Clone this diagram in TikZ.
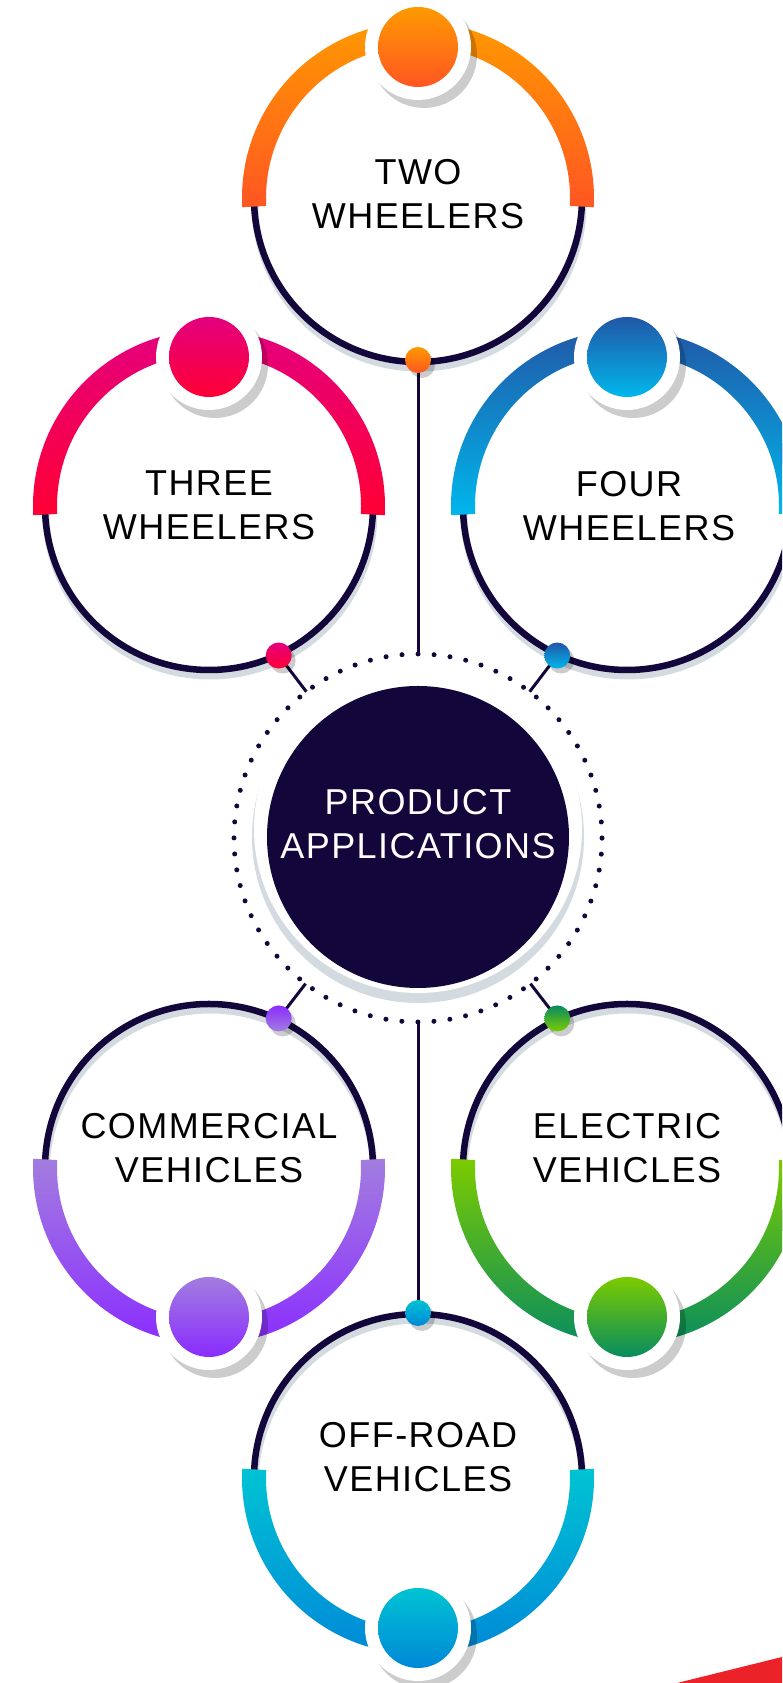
\documentclass[tikz,border=0pt]{standalone}
\usepackage{fontspec}
\setmainfont{Liberation Sans}
\newfontfamily\capsfont[LetterSpace=4]{Liberation Sans}
\usetikzlibrary{calc}

\definecolor{navy}{HTML}{13063A}
\definecolor{haze}{HTML}{D3DBE0}
\definecolor{orangeA}{HTML}{FF9A00}
\definecolor{orangeB}{HTML}{FF5622}
\definecolor{pinkA}{HTML}{E4007E}
\definecolor{pinkB}{HTML}{FF0035}
\definecolor{blueA}{HTML}{2157A6}
\definecolor{blueB}{HTML}{00B7EC}
\definecolor{purpleA}{HTML}{A27DDF}
\definecolor{purpleB}{HTML}{8A2CFF}
\definecolor{greenA}{HTML}{7CCB00}
\definecolor{greenB}{HTML}{078C5F}
\definecolor{tealA}{HTML}{00C3D3}
\definecolor{tealB}{HTML}{0088D8}
\definecolor{flag}{HTML}{EC2229}

\tikzset{
	ring/.style={line width=6.5, draw=navy},
	ringshadow/.style={line width=7, draw=haze},
	wire/.style={line width=3, draw=navy},
	ringtext/.style={align=center, inner sep=0, font=\capsfont\fontsize{36}{44}\selectfont}
}

\def\bandarc[#1](#2)(#3:#4){\shade[#1] ($(#2)+(#3:152)$) arc (#3:#4:152) -- ($(#2)+(#4:176)$) arc (#4:#3:176) -- cycle;}
\def\knob[#1](#2){\fill[black, opacity=0.2] ($(#2)+(6,-8)$) circle (53); \fill[white] (#2) circle (53); \shade[#1] (#2) circle (40);}
\def\pin[#1](#2){\fill[black, opacity=0.2] ($(#2)+(4,-5)$) circle (13); \shade[#1] (#2) circle (13);}

\begin{document}
\begin{tikzpicture}[x=1pt, y=1pt]
		%%%%% START %%%%%
		\useasboundingbox (0,0) rectangle (782,1683);
		\clip (0,0) rectangle (782,1683);
		
		\coordinate (two) at (418,1485);
		\coordinate (three) at (209,1177);
		\coordinate (four) at (627,1177);
		\coordinate (hub) at (418,846);
		\coordinate (comm) at (209,515);
		\coordinate (elec) at (627,515);
		\coordinate (offroad) at (418,205);
		
		% pins on the rings, knobs on the bands
		\coordinate (two-pin) at ($(two)+(-90:162)$);
		\coordinate (three-pin) at ($(three)+(-65:165)$);
		\coordinate (four-pin) at ($(four)+(-115:165)$);
		\coordinate (comm-pin) at ($(comm)+(65:165)$);
		\coordinate (elec-pin) at ($(elec)+(115:165)$);
		\coordinate (offroad-pin) at ($(offroad)+(90:165)$);
		\coordinate (two-knob) at ($(two)+(90:151)$);
		\coordinate (three-knob) at ($(three)+(90:149)$);
		\coordinate (four-knob) at ($(four)+(90:149)$);
		\coordinate (comm-knob) at ($(comm)+(-90:149)$);
		\coordinate (elec-knob) at ($(elec)+(-90:149)$);
		\coordinate (offroad-knob) at ($(offroad)+(-90:150)$);
		
		% hub
		\fill[haze] ($(hub)+(0,0)$) circle (166);
		\fill[white] ($(hub)+(0,8)$) circle (164);
		\fill[navy] (hub) circle (151);
		\node[circle, draw=navy, line width=5, line cap=round, dash pattern=on 0pt off 16.057pt, minimum size=368, inner sep=0, outer sep=0] (halo) at ($(hub)+(0,-1)$) {};
		
		\foreach \p in {two,three,four,comm,elec,offroad}
			\draw[wire] (\p-pin) -- (halo);
		
		\foreach \c in {two,three,four,comm,elec,offroad}{
			\draw[ringshadow] ($(\c)+(1,-6)$) circle (164);
			\draw[ring] (\c) circle (164);
		}
		
		\bandarc[top color=orangeA, bottom color=orangeB](two)(-3:183)
		\bandarc[top color=pinkA, bottom color=pinkB](three)(-3:183)
		\bandarc[top color=blueA, bottom color=blueB](four)(-3:183)
		\bandarc[top color=purpleA, bottom color=purpleB](comm)(177:363)
		\bandarc[top color=greenA, bottom color=greenB](elec)(177:363)
		\bandarc[top color=tealA, bottom color=tealB](offroad)(177:363)
		
		\knob[top color=orangeA, bottom color=orangeB](two-knob)
		\knob[top color=pinkA, bottom color=pinkB](three-knob)
		\knob[top color=blueA, bottom color=blueB](four-knob)
		\knob[top color=purpleA, bottom color=purpleB](comm-knob)
		\knob[top color=greenA, bottom color=greenB](elec-knob)
		\knob[top color=tealA, bottom color=tealB](offroad-knob)
		
		\pin[top color=orangeA, bottom color=orangeB](two-pin)
		\pin[top color=pinkA, bottom color=pinkB](three-pin)
		\pin[top color=blueA, bottom color=blueB](four-pin)
		\pin[top color=purpleB, bottom color=purpleA](comm-pin)
		\pin[top color=greenB, bottom color=greenA](elec-pin)
		\pin[top color=tealA, bottom color=tealB](offroad-pin)
		
		\node[ringtext] (two-text) at ($(two)+(0,4)$) {TWO\\WHEELERS};
		\node[ringtext] (three-text) at ($(three)+(0,1)$) {THREE\\WHEELERS};
		\node[ringtext] (four-text) at ($(four)+(2,0)$) {FOUR\\WHEELERS};
		\node[ringtext, text=white] (hub-text) at ($(hub)+(0,13)$) {PRODUCT\\APPLICATIONS};
		\node[ringtext] (comm-text) at ($(comm)+(0,20)$) {COMMERCIAL\\VEHICLES};
		\node[ringtext] (elec-text) at ($(elec)+(0,20)$) {ELECTRIC\\VEHICLES};
		\node[ringtext] (offroad-text) at ($(offroad)+(0,21)$) {OFF-ROAD\\VEHICLES};
		
		\fill[flag] (677,0) -- (782,26) -- (782,0) -- cycle;
		
		%%%%% END %%%%%
	\end{tikzpicture}
\end{document}
